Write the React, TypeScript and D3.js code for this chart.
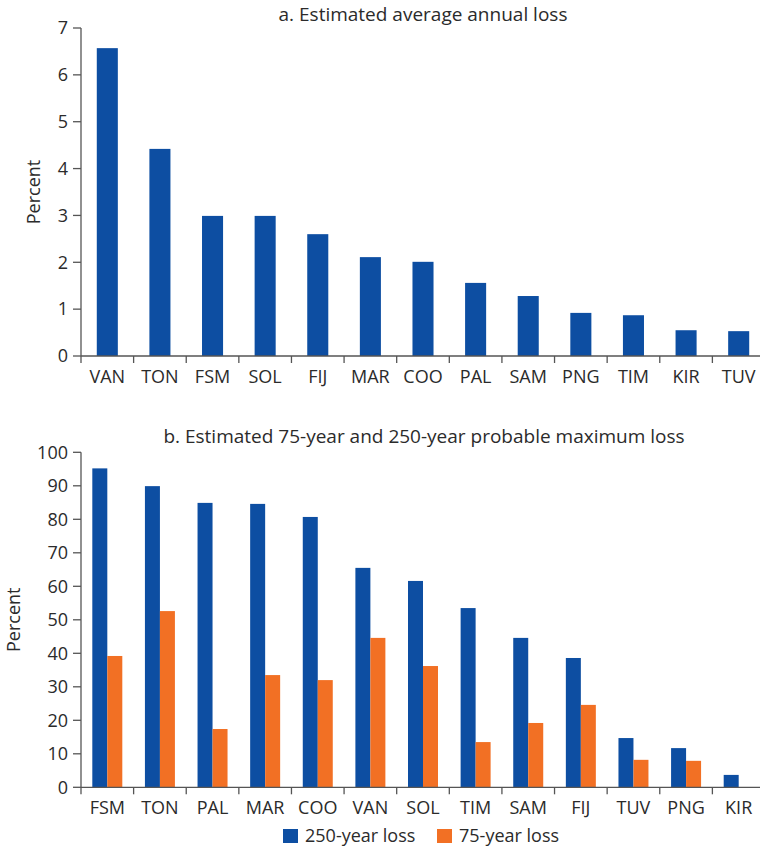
import React from "react";
import * as d3 from "d3";

const catsA = ["VAN", "TON", "FSM", "SOL", "FIJ", "MAR", "COO", "PAL", "SAM", "PNG", "TIM", "KIR", "TUV"];
const valsA = [6.57, 4.42, 2.99, 2.99, 2.6, 2.11, 2.01, 1.56, 1.28, 0.92, 0.87, 0.55, 0.53];
const ticksA = [0, 1, 2, 3, 4, 5, 6, 7];

const catsB = ["FSM", "TON", "PAL", "MAR", "COO", "VAN", "SOL", "TIM", "SAM", "FIJ", "TUV", "PNG", "KIR"];
const vals250 = [95.2, 89.9, 84.9, 84.6, 80.7, 65.5, 61.6, 53.5, 44.6, 38.6, 14.7, 11.7, 3.7];
const vals75 = [39.2, 52.6, 17.4, 33.5, 32.0, 44.6, 36.2, 13.5, 19.2, 24.6, 8.2, 7.9, 0];
const ticksB = [0, 10, 20, 30, 40, 50, 60, 70, 80, 90, 100];
const seriesNames = ["250-year loss", "75-year loss"];

const BLUE = "#0d4ea2";
const ORANGE = "#f27024";
const TEXT = "#2b2b2b";
const AXIS = "#555555";
const FONT = "'Open Sans', 'Noto Sans', sans-serif";

export default function App() {
  const W = 760, H = 849;
  const x0 = 81, x1 = 765;

  const xA = d3.scaleBand<string>().domain(catsA).range([x0, x1]).padding(0);
  const yA = d3.scaleLinear().domain([0, 7]).range([356, 28]);

  const xB = d3.scaleBand<string>().domain(catsB).range([x0, x1]).padding(0);
  const yB = d3.scaleLinear().domain([0, 100]).range([787.3, 452.3]);

  const bwA = xA.bandwidth() * 0.4;
  const bwB = xB.bandwidth() * 0.285;

  const fs = 18;
  const tfs = 19;

  const axisY = (y: d3.ScaleLinear<number, number>, ticks: number[]) => (
    <g>
      <line x1={x0} x2={x0} y1={y(ticks[ticks.length - 1])} y2={y(0)} stroke={AXIS} strokeWidth={1.3} />
      {ticks.map((t) => (
        <g key={t}>
          <line x1={x0 - 8} x2={x0} y1={y(t)} y2={y(t)} stroke={AXIS} strokeWidth={1.3} />
          <text x={x0 - 13} y={y(t)} dy="0.35em" textAnchor="end" fontSize={fs} fill={TEXT} fontFamily={FONT}>{t}</text>
        </g>
      ))}
    </g>
  );

  const axisX = (x: d3.ScaleBand<string>, yBase: number) => (
    <g>
      <line x1={x0} x2={W} y1={yBase} y2={yBase} stroke={AXIS} strokeWidth={1.3} />
      {x.domain().map((c) => (
        <g key={c}>
          <line x1={x(c)!} x2={x(c)!} y1={yBase} y2={yBase + 7} stroke={AXIS} strokeWidth={1.3} />
          <text x={x(c)! + x.bandwidth() / 2} y={yBase + 27} textAnchor="middle" fontSize={fs} fill={TEXT} fontFamily={FONT}>{c}</text>
        </g>
      ))}
      <line x1={x1} x2={x1} y1={yBase} y2={yBase + 7} stroke={AXIS} strokeWidth={1.3} />
    </g>
  );

  return (
    <svg width={W} height={H} style={{ position: "absolute", left: 0, top: 0 }} fontFamily={FONT}>
      <rect width={W} height={H} fill="#fff" />
      {/* Chart a */}
      <text x={423} y={21} textAnchor="middle" fontSize={tfs} fill={TEXT}>a. Estimated average annual loss</text>
      <text transform={`translate(40,${yA(3.5)}) rotate(-90)`} textAnchor="middle" fontSize={fs} fill={TEXT}>Percent</text>
      {catsA.map((c, i) => (
        <rect key={c} x={xA(c)! + (xA.bandwidth() - bwA) / 2} y={yA(valsA[i])} width={bwA} height={yA(0) - yA(valsA[i])} fill={BLUE} />
      ))}
      {axisY(yA, ticksA)}
      {axisX(xA, yA(0))}

      {/* Chart b */}
      <text x={424} y={443} textAnchor="middle" fontSize={tfs} fill={TEXT}>b. Estimated 75-year and 250-year probable maximum loss</text>
      <text transform={`translate(20,${yB(50)}) rotate(-90)`} textAnchor="middle" fontSize={fs} fill={TEXT}>Percent</text>
      {catsB.map((c, i) => {
        const cx = xB(c)! + xB.bandwidth() / 2;
        return (
          <g key={c}>
            <rect x={cx - bwB} y={yB(vals250[i])} width={bwB} height={yB(0) - yB(vals250[i])} fill={BLUE} />
            {vals75[i] > 0 && (
              <rect x={cx} y={yB(vals75[i])} width={bwB} height={yB(0) - yB(vals75[i])} fill={ORANGE} />
            )}
          </g>
        );
      })}
      {axisY(yB, ticksB)}
      {axisX(xB, yB(0))}

      {/* Legend */}
      <rect x={283} y={829} width={15} height={14} fill={BLUE} />
      <text x={305} y={842} fontSize={fs} fill={TEXT}>{seriesNames[0]}</text>
      <rect x={437} y={829} width={15} height={14} fill={ORANGE} />
      <text x={459} y={842} fontSize={fs} fill={TEXT}>{seriesNames[1]}</text>
    </svg>
  );
}
